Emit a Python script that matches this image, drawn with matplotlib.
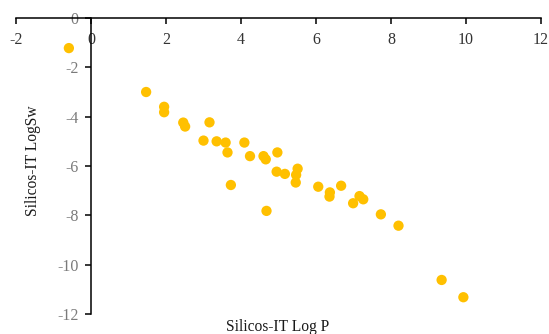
import matplotlib
matplotlib.use("Agg")
import matplotlib.pyplot as plt

log_p = [-0.59, 1.47, 1.95, 1.95, 2.46, 2.51, 3.16, 3.0, 3.35, 3.59, 3.64, 3.73,
         4.09, 4.24, 4.6, 4.66, 4.97, 4.95, 5.17, 5.51, 5.47, 5.46, 4.68, 6.06,
         6.37, 6.36, 6.67, 7.16, 7.26, 6.99, 7.73, 8.2, 9.35, 9.93]
log_sw = [-1.22, -3.0, -3.6, -3.82, -4.24, -4.4, -4.23, -4.97, -5.0, -5.05, -5.45, -6.77,
          -5.05, -5.6, -5.6, -5.73, -5.45, -6.23, -6.32, -6.11, -6.36, -6.67, -7.82, -6.84,
          -7.07, -7.24, -6.8, -7.22, -7.35, -7.51, -7.96, -8.42, -10.62, -11.32]
x_ticks = [-2, 0, 2, 4, 6, 8, 10, 12]
y_ticks = [-12, -10, -8, -6, -4, -2, 0]

plt.rcParams['font.family'] = ['Liberation Serif', 'DejaVu Serif']
plt.rcParams['axes.unicode_minus'] = False

fig = plt.figure(figsize=(5.49, 3.34), dpi=100)
ax = fig.add_axes([16/549, 1-314/334, 525/549, 296/334])
ax.scatter(log_p, log_sw, s=55, color='#FFC000', edgecolors='none', zorder=3, clip_on=False)
ax.set_xlim(-2, 12)
ax.set_ylim(-12, 0)
ax.set_xticks(x_ticks)
ax.set_yticks(y_ticks)
ax.set_xticklabels([str(t) for t in x_ticks])
ax.set_yticklabels([str(t) for t in y_ticks])

for s in ['top', 'right']:
    ax.spines[s].set_visible(False)
ax.spines['left'].set_position(('data', 0))
ax.spines['bottom'].set_position(('data', 0))
for s in ['left', 'bottom']:
    ax.spines[s].set_linewidth(1.1)
    ax.spines[s].set_color('#000000')
ax.tick_params(axis='x', direction='out', length=4, width=1.1, pad=6,
               labelsize=11.5, labelcolor='#333333')
ax.tick_params(axis='y', direction='out', length=4, width=1.1, pad=5,
               labelsize=11.5, labelcolor='#7a7a7a')

fig.text(278/549, 3/334, 'Silicos-IT Log P', ha='center', va='baseline',
         fontsize=11.2, color='#1a1a1a')
fig.text(33/549, 1-161/334, 'Silicos-IT LogSw', ha='center', va='center',
         rotation=90, fontsize=11.2, color='#1a1a1a')

fig.savefig('out.png', dpi=100)
